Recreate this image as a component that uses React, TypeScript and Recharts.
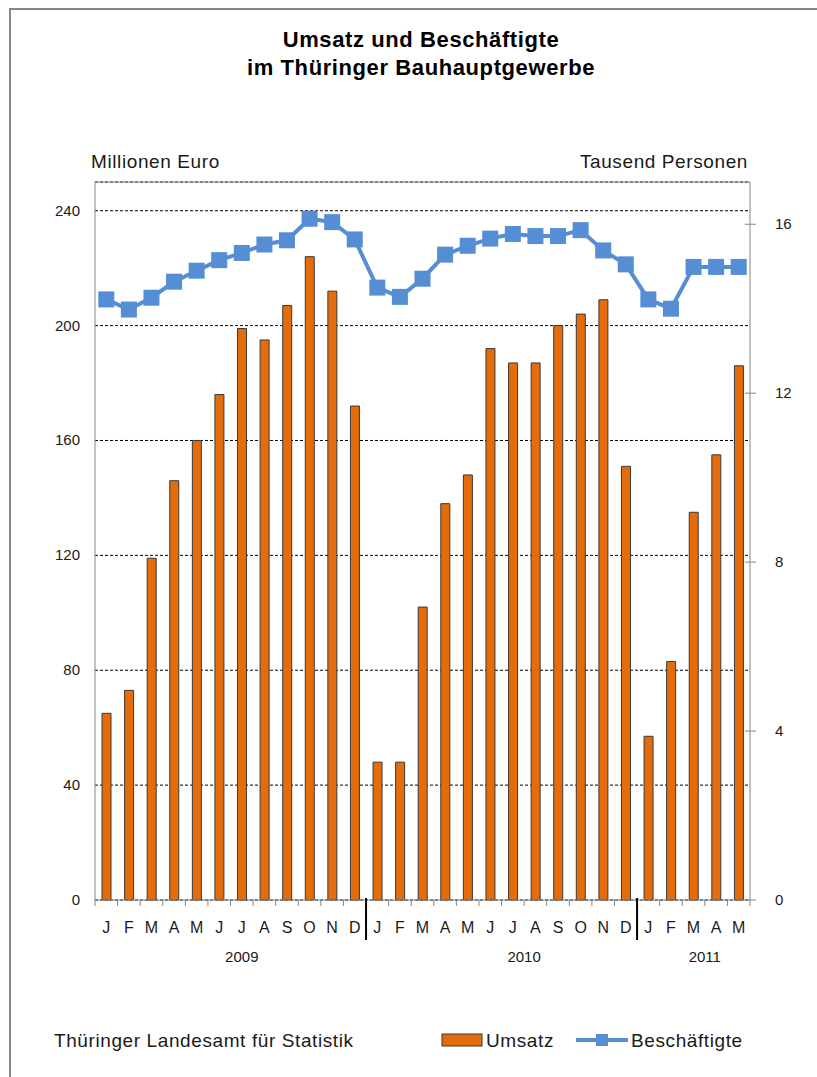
import { ComposedChart, Bar, Line, XAxis, YAxis, CartesianGrid, ReferenceLine } from "recharts";

// Monatswerte Jan 2009 - Mai 2011
const months = [
  "J", "F", "M", "A", "M", "J", "J", "A", "S", "O", "N", "D",
  "J", "F", "M", "A", "M", "J", "J", "A", "S", "O", "N", "D",
  "J", "F", "M", "A", "M",
];
// Umsatz in Millionen Euro
const umsatz = [
  65, 73, 119, 146, 160, 176, 199, 195, 207, 224, 212, 172,
  48, 48, 102, 138, 148, 192, 187, 187, 200, 204, 209, 151,
  57, 83, 135, 155, 186,
];
// Beschäftigte in Tausend Personen
const beschaeftigte = [
  14.22, 13.98, 14.26, 14.64, 14.9, 15.15, 15.32, 15.52, 15.62, 16.13, 16.05, 15.64,
  14.5, 14.28, 14.71, 15.28, 15.49, 15.66, 15.77, 15.72, 15.72, 15.86, 15.38, 15.05,
  14.22, 14.0, 14.99, 14.99, 14.99,
];
const years = ["2009", "2010", "2011"];
const yearLabelPos = [6.5, 19, 27]; // position in category units
const yearStarts = [12, 24];
const leftTicks = [0, 40, 80, 120, 160, 200, 240];
const rightTicks = [0, 4, 8, 12, 16];

const data = months.map((m, i) => ({ m, umsatz: umsatz[i], besch: beschaeftigte[i] }));

const W = 817;
const H = 1077;
const PLOT_LEFT = 95;
const PLOT_RIGHT = 750;
const BW = (PLOT_RIGHT - PLOT_LEFT) / months.length;

const ORANGE = "#E46C0A";
const BLUE = "#558ED5";
const AXIS = "#868686";
const TEXT = "#1a1a1a";
const FONT = "'Liberation Sans', Arial, sans-serif";

function MonthTick(props: any) {
  const { x, y, index } = props;
  const left = x - BW / 2;
  const isSep = yearStarts.includes(index);
  const yi = yearLabelPos.findIndex((p) => Math.floor(p) === index);
  return (
    <g>
      {isSep ? (
        <line x1={left} x2={left} y1={y - 2} y2={y + 40} stroke="#000" strokeWidth={2} />
      ) : (
        <line x1={left} x2={left} y1={y} y2={y + 6} stroke={AXIS} />
      )}
      {index === months.length - 1 && (
        <line x1={x + BW / 2} x2={x + BW / 2} y1={y} y2={y + 6} stroke={AXIS} />
      )}
      <text x={x} y={y + 33} textAnchor="middle" fontSize={16} fill={TEXT} fontFamily={FONT}>
        {months[index]}
      </text>
      {yi >= 0 && (
        <text
          x={x + (yearLabelPos[yi] - index - 0.5) * BW}
          y={y + 62}
          textAnchor="middle"
          fontSize={15}
          fill={TEXT}
          fontFamily={FONT}
        >
          {years[yi]}
        </text>
      )}
    </g>
  );
}

function LeftTick(props: any) {
  const { x, y, payload } = props;
  return (
    <text x={x - 15} y={y + 5} textAnchor="end" fontSize={15} fill={TEXT} fontFamily={FONT}>
      {payload.value}
    </text>
  );
}

function RightTick(props: any) {
  const { x, y, payload } = props;
  return (
    <g>
      <line x1={x - 5} x2={x + 6} y1={y} y2={y} stroke={AXIS} />
      <text x={x + 25} y={y + 5} textAnchor="start" fontSize={15} fill={TEXT} fontFamily={FONT}>
        {payload.value}
      </text>
    </g>
  );
}

const textStyle = { fontFamily: FONT, fill: TEXT, letterSpacing: 0.6 };

export default function App() {
  return (
    <div style={{ position: "absolute", left: 0, top: 0, width: W, height: H, background: "#fff" }}>
      <ComposedChart
        width={W}
        height={H}
        data={data}
        margin={{ top: 182, right: 7, bottom: 117, left: 35 }}
      >
        <CartesianGrid yAxisId="left" vertical={false} stroke="#000" strokeDasharray="3 2" />
        <XAxis
          dataKey="m"
          interval={0}
          tickLine={false}
          tickSize={0}
          tickMargin={0}
          height={60}
          axisLine={{ stroke: AXIS }}
          tick={<MonthTick />}
        />
        <YAxis
          yAxisId="left"
          domain={[0, 250]}
          ticks={leftTicks}
          width={60}
          tickLine={false}
          tickSize={0}
          tickMargin={0}
          axisLine={{ stroke: AXIS }}
          tick={<LeftTick />}
        />
        <YAxis
          yAxisId="right"
          orientation="right"
          domain={[0, 17]}
          ticks={rightTicks}
          width={60}
          tickLine={false}
          tickSize={0}
          tickMargin={0}
          axisLine={{ stroke: AXIS }}
          tick={<RightTick />}
        />
        <ReferenceLine yAxisId="left" y={250} stroke={AXIS} />
        <Bar
          yAxisId="left"
          dataKey="umsatz"
          fill={ORANGE}
          stroke="#3a3a3a"
          strokeWidth={1}
          barSize={9}
          isAnimationActive={false}
        />
        <Line
          yAxisId="right"
          type="linear"
          dataKey="besch"
          stroke={BLUE}
          strokeWidth={4}
          dot={(p: any) => (
            <rect key={p.index} x={p.cx - 8} y={p.cy - 8} width={16} height={16} fill={BLUE} />
          )}
          activeDot={false}
          isAnimationActive={false}
        />
      </ComposedChart>

      <svg
        width={W}
        height={H}
        style={{ position: "absolute", left: 0, top: 0, pointerEvents: "none" }}
      >
        <line x1={9} x2={W} y1={9} y2={9} stroke="#888" strokeWidth={2} />
        <line x1={10} x2={10} y1={8} y2={H} stroke="#888" strokeWidth={2} />

        <text x={421} y={47} textAnchor="middle" fontSize={22} fontWeight="bold" style={{ ...textStyle, fill: "#000", letterSpacing: 0.6 }}>
          Umsatz und Beschäftigte
        </text>
        <text x={421} y={75} textAnchor="middle" fontSize={22} fontWeight="bold" style={{ ...textStyle, fill: "#000", letterSpacing: 0.6 }}>
          im Thüringer Bauhauptgewerbe
        </text>

        <text x={91} y={168} fontSize={19} style={textStyle}>
          Millionen Euro
        </text>
        <text x={748} y={168} textAnchor="end" fontSize={19} style={textStyle}>
          Tausend Personen
        </text>

        <text x={54} y={1047} fontSize={19} style={textStyle}>
          Thüringer Landesamt für Statistik
        </text>

        <rect x={442} y={1034} width={40} height={12} fill={ORANGE} stroke="#3a3a3a" strokeWidth={1} />
        <text x={486} y={1047} fontSize={19} style={textStyle}>
          Umsatz
        </text>
        <line x1={576} x2={628} y1={1040} y2={1040} stroke={BLUE} strokeWidth={4} />
        <rect x={596} y={1034} width={12} height={12} fill={BLUE} />
        <text x={631} y={1047} fontSize={19} style={textStyle}>
          Beschäftigte
        </text>
      </svg>
    </div>
  );
}
